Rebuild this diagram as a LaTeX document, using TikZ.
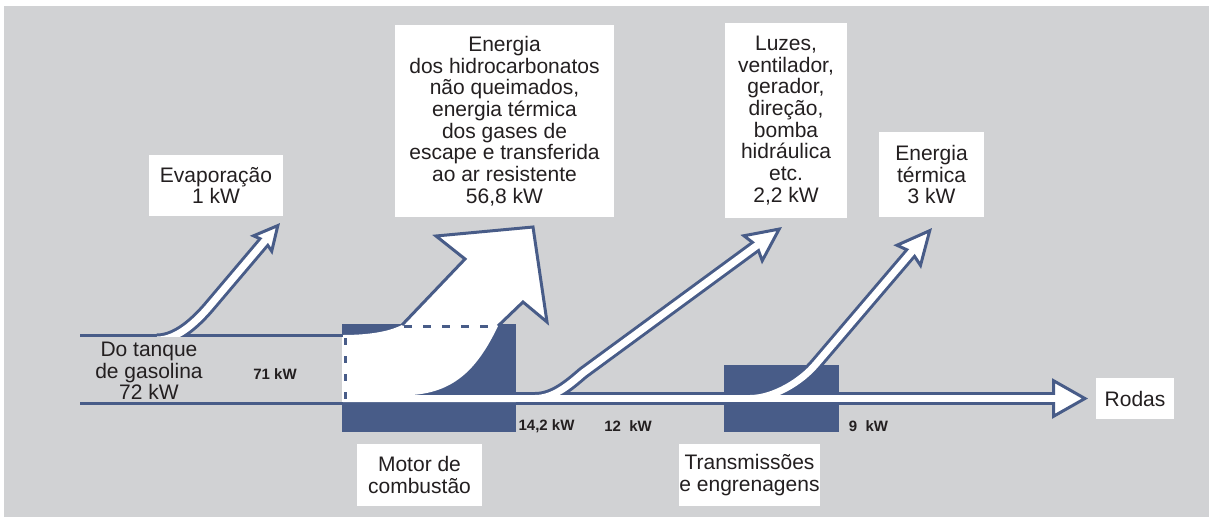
\documentclass[tikz,border=0pt]{standalone}
\usepackage{fontspec}
\setmainfont{Liberation Sans}
\usetikzlibrary{arrows.meta}
\definecolor{bgGray}{RGB}{209,210,212}
\definecolor{flowBlue}{RGB}{72,92,136}
\definecolor{inkText}{RGB}{35,31,32}

\begin{document}
\begin{tikzpicture}[x=1pt,y=-1pt,
  labelbox/.style={fill=white,inner sep=0pt,align=center,text=inkText,font=\fontsize{21}{21.7}\selectfont},
  freetext/.style={inner sep=0pt,align=center,text=inkText,font=\fontsize{21}{21.7}\selectfont},
  kwtext/.style={inner sep=0pt,text=inkText,font=\fontsize{15}{16}\selectfont\bfseries},
  flowedge/.style={draw=flowBlue,line width=13pt},
  flowcore/.style={draw=white,line width=7pt},
  bighead/.style={-{Stealth[length=38pt,width=36pt,inset=5pt,line width=3pt,fill=white]}},
  smallhead/.style={-{Stealth[length=29pt,width=29pt,inset=4pt,line width=3pt,fill=white]}},
  wheelhead/.style={-{Triangle[length=36pt,width=40pt,line width=3pt,fill=white]}}]
	\fill[bgGray] (4,6) rectangle (1209,517);
	\useasboundingbox (0,0) rectangle (1209,517);
	% end points of the flows
	\coordinate (evapTip) at (280,223);
	\coordinate (luzTip) at (782,227);
	\coordinate (termTip) at (932,228);
	\coordinate (wheelTip) at (1088,398.5);
	% motor and gearbox blocks
	\fill[flowBlue] (342,324) rectangle (516,432);
	\fill[flowBlue] (724,365) rectangle (839,432);
	% loss through the motor
	\fill[white] (342,335) .. controls (375,335) and (392,330) .. (402,325) -- (465,259) -- (436,236) -- (533,227) -- (547,322) -- (523,302) -- (498,326)
		.. controls (478,368) and (455,392) .. (412,395) -- (516,395) -- (516,402) -- (342,402) -- cycle;
	\draw[flowBlue,line width=3pt,line join=miter] (402,325) -- (465,259) -- (436,236) -- (533,227) -- (547,322) -- (523,302) -- (498,326);
	\draw[flowBlue,line width=3pt,dash pattern=on 8pt off 11pt] (404,326.5) -- (498,326.5);
	\draw[flowBlue,line width=3pt,dash pattern=on 7pt off 11pt] (345,338) -- (345,402);
	% fuel in
	\draw[flowBlue,line width=3pt] (80,335) -- (343,335);
	\draw[flowBlue,line width=3pt] (80,403.5) -- (343,403.5);
	% outlines
	\draw[flowedge,wheelhead] (516,398.5) -- (wheelTip);
	\begin{scope}
		\clip (0,0) rectangle (1209,336.5);
		\draw[flowedge,smallhead] (157,340) .. controls (176,340) and (194,324) .. (208,308) -- (evapTip);
		\draw[flowcore,shorten >=19pt] (157,340) .. controls (176,340) and (194,324) .. (208,308) -- (evapTip);
	\end{scope}
	\begin{scope}
		\clip (0,0) rectangle (1209,396);
		\draw[flowedge,bighead] (535,398.5) .. controls (553,398.5) and (568,386) .. (583,373) -- (luzTip);
		\draw[flowedge,bighead] (750,398.5) .. controls (773,398.5) and (801,382) .. (816,364) -- (termTip);
	\end{scope}
	% white cores
	\draw[flowcore] (516,398.5) -- (1062,398.5);
	\begin{scope}
		\clip (0,0) rectangle (1209,396);
		\draw[flowcore,shorten >=25pt] (535,398.5) .. controls (553,398.5) and (568,386) .. (583,373) -- (luzTip);
		\draw[flowcore,shorten >=25pt] (750,398.5) .. controls (773,398.5) and (801,382) .. (816,364) -- (termTip);
	\end{scope}
	% labels
	\node[labelbox,minimum width=134pt,minimum height=61pt] (evap) at (216,185.5) {Evaporação\\1 kW};
	\node[labelbox,minimum width=219pt,minimum height=192pt] (hidro) at (504.5,121) {Energia\\dos hidrocarbonatos\\não queimados,\\energia térmica\\dos gases de\\escape e transferida\\ao ar resistente\\56,8 kW};
	\node[labelbox,minimum width=122pt,minimum height=195pt] (luzes) at (786,120.5) {Luzes,\\ventilador,\\gerador,\\direção,\\bomba\\hidráulica\\etc.\\2,2 kW};
	\node[labelbox,minimum width=105pt,minimum height=85pt] (termica) at (931.5,174.5) {Energia\\térmica\\3 kW};
	\node[labelbox,minimum width=125pt,minimum height=62pt] (motor) at (419.5,475) {Motor de\\combustão};
	\node[labelbox,minimum width=141pt,minimum height=62pt] (trans) at (749.5,475) {Transmissões\\e engrenagens};
	\node[labelbox,minimum width=78pt,minimum height=41pt] (rodas) at (1135,398.5) {Rodas};
	\node[freetext] (tanque) at (149,371) {Do tanque\\de gasolina\\72 kW};
	\node[kwtext] (kw71) at (275,374) {71 kW};
	\node[kwtext] (kw142) at (546.5,426) {14,2 kW};
	\node[kwtext] (kw12) at (628,426) {12\ \ kW};
	\node[kwtext] (kw9) at (868.5,426) {9\ \ kW};
\end{tikzpicture}
\end{document}
